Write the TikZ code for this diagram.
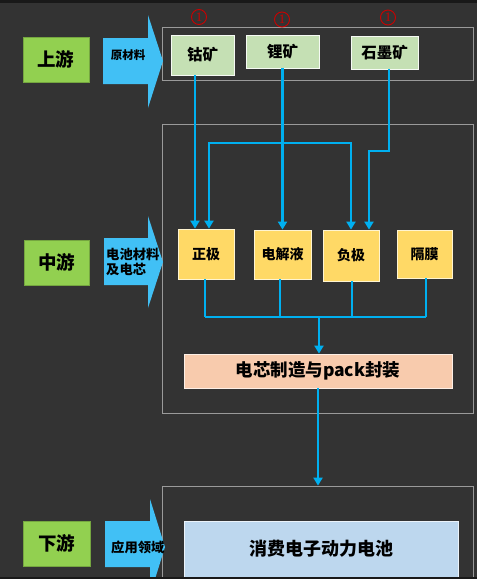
\documentclass[tikz,border=0pt]{standalone}
\usepackage{fontspec}
\newfontfamily\cjk{Noto Sans CJK SC}
\newfontfamily\numserif{Liberation Serif}
\usetikzlibrary{arrows.meta}
\definecolor{bgc}{HTML}{333333}
\definecolor{lvl}{HTML}{92D050}
\definecolor{arrc}{HTML}{41C0F5}
\definecolor{mineral}{HTML}{C5E0B4}
\definecolor{part}{HTML}{FFD966}
\definecolor{packc}{HTML}{F8CBAD}
\definecolor{usec}{HTML}{BDD7EE}
\definecolor{linec}{HTML}{00B0F0}
\definecolor{framec}{HTML}{9A9A9A}
\definecolor{numc}{HTML}{CC0000}
\begin{document}
\begin{tikzpicture}[x=1pt,y=-1pt,
  lvlbox/.style={fill=lvl,draw=lvl!80!black,line width=0.6pt,inner sep=0pt,font=\cjk\bfseries\fontsize{18.5}{20}\selectfont},
  minbox/.style={fill=mineral,draw=white!85!mineral,line width=0.8pt,inner sep=0pt,font=\cjk\bfseries\fontsize{15.5}{17}\selectfont},
  partbox/.style={fill=part,draw=white!70!part,line width=0.8pt,inner sep=0pt,font=\cjk\bfseries\fontsize{14}{15}\selectfont},
  framebox/.style={draw=framec,line width=0.8pt,inner sep=0pt},
  flow/.style={draw=linec,line width=2.6pt},
  flowarr/.style={flow,-{Triangle[width=9pt,length=8pt]}},
  arrtext/.style={font=\cjk\bfseries\fontsize{13.3}{15.5}\selectfont,text=black,align=left,inner sep=0pt},
  numbadge/.style={circle,draw=numc,line width=0.9pt,minimum size=15pt,inner sep=0pt,text=numc,font=\numserif\fontsize{13}{13}\selectfont}
]
\useasboundingbox (0,0) rectangle (477,579);
\fill[bgc] (0,0) rectangle (477,579);
\fill[black!90] (0,0) rectangle (477,2.5);

\begin{scope}
\clip (0,0) rectangle (477,577);
% frames
\node[framebox,minimum width=311pt,minimum height=53pt] (f1) at (317.5,53.5) {};
\node[framebox,minimum width=311pt,minimum height=289pt] (f2) at (317.5,268.5) {};
\node[framebox,minimum width=311pt,minimum height=140pt] (f3) at (317.5,556) {};

% big arrows
\fill[arrc] (103,38) -- (148,38) -- (148,15) -- (163,61) -- (148,108) -- (148,84) -- (103,84) -- cycle;
\fill[arrc] (104,238) -- (148,238) -- (148,216) -- (163,262) -- (148,308) -- (148,285) -- (104,285) -- cycle;
\fill[arrc] (105,521) -- (150,521) -- (150,499) -- (165,547) -- (150,595) -- (150,567) -- (105,567) -- cycle;
\node[arrtext,font=\cjk\bfseries\fontsize{11.5}{13}\selectfont] (t1) at (128,55) {原材料};
\node[arrtext,anchor=west] (t2) at (106,262) {电池材料\\及电芯};
\node[arrtext,anchor=west] (t3) at (111,547) {应用领域};

% level boxes
\node[lvlbox,minimum width=66pt,minimum height=45pt] (up) at (56,59.5) {上游};
\node[lvlbox,minimum width=65pt,minimum height=45pt] (mid) at (56.5,262.5) {中游};
\node[lvlbox,minimum width=67pt,minimum height=45pt] (down) at (56.5,543.5) {下游};

% minerals
\node[minbox,minimum width=63pt,minimum height=40pt] (co) at (202.5,55) {钴矿};
\node[minbox,minimum width=73pt,minimum height=33pt] (li) at (282.5,51.5) {锂矿};
\node[minbox,minimum width=67pt,minimum height=33pt] (gr) at (384.5,52.5) {石墨矿};
\node[numbadge] (n1) at (199,17) {1};
\node[numbadge] (n2) at (282,19.5) {1};
\node[numbadge] (n3) at (388,17.5) {1};

% parts
\node[partbox,minimum width=56pt,minimum height=50pt] (zj) at (206,254) {正极};
\node[partbox,minimum width=57pt,minimum height=49pt] (dj) at (282.5,254.5) {电解液};
\node[partbox,minimum width=56pt,minimum height=51pt] (fj) at (351,255.5) {负极};
\node[partbox,minimum width=55pt,minimum height=48pt] (gm) at (424.5,254) {隔膜};

% pack
\node[fill=packc,draw=white!70!packc,line width=0.8pt,minimum width=268pt,minimum height=34pt,inner sep=0pt,font=\cjk\bfseries\fontsize{17.5}{19}\selectfont] (pack) at (318,371) {电芯制造与pack封装};

% application
\node[fill=usec,draw=white!70!usec,line width=0.8pt,minimum width=274pt,minimum height=56pt,inner sep=0pt,font=\cjk\bfseries\fontsize{18}{19}\selectfont] (app) at (321,549) {消费电子动力电池};

% connectors
\coordinate (xa) at (195,0);
\coordinate (gbend) at (389,151);
\coordinate (gdown) at (369,151);
\coordinate (bl) at (209,143);
\coordinate (br) at (351,143);
\draw[flowarr] (co.south -| xa) -- (zj.north -| xa);
\draw[flowarr] (li.south) -- (dj.north -| li.south);
\draw[flowarr] (gr.south -| gbend) -- (gbend) -- (gdown) -- (fj.north -| gdown);
\draw[flow,{Triangle[width=9pt,length=8pt]}-{Triangle[width=9pt,length=8pt]}] (zj.north -| bl) -- (bl) -- (br) -- (fj.north -| br);

\coordinate (b1) at (205,317);
\coordinate (b2) at (280,317);
\coordinate (b3) at (352,317);
\coordinate (b4) at (426,317);
\coordinate (bm) at (319,317);
\draw[flow] (zj.south -| b1) -- (b1);
\draw[flow] (dj.south -| b2) -- (b2);
\draw[flow] (fj.south -| b3) -- (b3);
\draw[flow] (gm.south -| b4) -- (b4);
\draw[flow] (b1) -- (b4);
\draw[flowarr] (bm) -- (pack.north -| bm);
\draw[flowarr] (pack.south) -- (f3.north -| pack.south);
\end{scope}
\fill[black!90] (0,577) rectangle (477,579);
\end{tikzpicture}
\end{document}
